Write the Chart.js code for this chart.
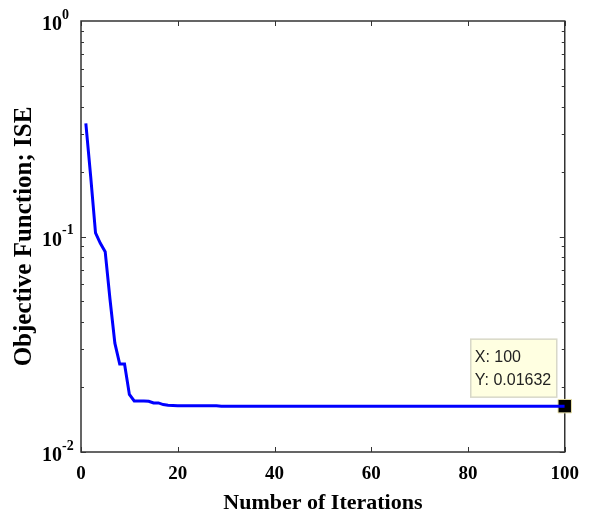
<!DOCTYPE html>
<html>
<head>
<meta charset="utf-8">
<script src="https://cdn.jsdelivr.net/npm/chart.js@4/dist/chart.umd.min.js"></script>
<style>
  body { margin: 0; background: #fff; }
  #wrap { width: 590px; height: 519px; }
</style>
</head>
<body>
<div id="wrap"><canvas id="myChart"></canvas></div>
<script>
// ISE value at each iteration (iteration 1..100)
const iseValues = [
  0.335, 0.19, 0.104, 0.093, 0.085, 0.051, 0.032, 0.0256, 0.0256, 0.0185,
  0.01725, 0.01725, 0.01725, 0.0172, 0.0169, 0.0169, 0.0166, 0.0165, 0.01645, 0.0164,
  0.0164, 0.0164, 0.0164, 0.0164, 0.0164, 0.0164, 0.0164, 0.0164, 0.01632, 0.01632,
  0.01632, 0.01632, 0.01632, 0.01632, 0.01632, 0.01632, 0.01632, 0.01632, 0.01632, 0.01632,
  0.01632, 0.01632, 0.01632, 0.01632, 0.01632, 0.01632, 0.01632, 0.01632, 0.01632, 0.01632,
  0.01632, 0.01632, 0.01632, 0.01632, 0.01632, 0.01632, 0.01632, 0.01632, 0.01632, 0.01632,
  0.01632, 0.01632, 0.01632, 0.01632, 0.01632, 0.01632, 0.01632, 0.01632, 0.01632, 0.01632,
  0.01632, 0.01632, 0.01632, 0.01632, 0.01632, 0.01632, 0.01632, 0.01632, 0.01632, 0.01632,
  0.01632, 0.01632, 0.01632, 0.01632, 0.01632, 0.01632, 0.01632, 0.01632, 0.01632, 0.01632,
  0.01632, 0.01632, 0.01632, 0.01632, 0.01632, 0.01632, 0.01632, 0.01632, 0.01632, 0.01632
];
const xTicks = [0, 20, 40, 60, 80, 100];
const yTickValues = [1, 0.1, 0.01];
const yTickExponents = ["0", "-1", "-2"];
const tipX = 100;
const tipY = 0.01632;

const lineData = iseValues.map((v, i) => ({ x: i + 1, y: v }));

// MATLAB-like box, inward ticks, log tick labels with superscripts
const axesPlugin = {
  id: "axesBox",
  beforeDatasetsDraw(chart) {
    const ctx = chart.ctx;
    const a = chart.chartArea;
    const xs = chart.scales.x;
    const ys = chart.scales.y;
    ctx.save();
    ctx.strokeStyle = "#333";
    ctx.lineWidth = 1.5;
    ctx.strokeRect(a.left, a.top, a.right - a.left, a.bottom - a.top);
    ctx.lineWidth = 1;
    ctx.beginPath();
    xTicks.forEach((t) => {
      const px = Math.round(xs.getPixelForValue(t)) + 0.5;
      ctx.moveTo(px, a.bottom); ctx.lineTo(px, a.bottom - 5);
      ctx.moveTo(px, a.top); ctx.lineTo(px, a.top + 5);
    });
    [0.01, 0.1].forEach((dec) => {
      for (let m = 1; m <= 9; m++) {
        const py = Math.round(ys.getPixelForValue(dec * m)) + 0.5;
        const len = m === 1 ? 5 : 3;
        ctx.moveTo(a.left, py); ctx.lineTo(a.left + len, py);
        ctx.moveTo(a.right, py); ctx.lineTo(a.right - len, py);
      }
    });
    ctx.stroke();

    ctx.fillStyle = "#000";
    ctx.textBaseline = "middle";
    yTickValues.forEach((v, i) => {
      const py = ys.getPixelForValue(v);
      ctx.font = "bold 20px 'Liberation Serif'";
      ctx.textAlign = "right";
      ctx.fillText("10", a.left - 19, py + 4);
      ctx.font = "bold 14px 'Liberation Serif'";
      ctx.textAlign = "left";
      ctx.fillText(yTickExponents[i], a.left - 19, py - 6);
    });
    ctx.restore();
  },
  afterDraw(chart) {
    const ctx = chart.ctx;
    const px = chart.scales.x.getPixelForValue(tipX);
    const py = chart.scales.y.getPixelForValue(tipY);
    const bx = px - 94, by = py - 67, bw = 86, bh = 58;
    ctx.save();
    ctx.fillStyle = "#ffffe1";
    ctx.fillRect(bx, by, bw, bh);
    ctx.strokeStyle = "#d8d8c8";
    ctx.lineWidth = 1.5;
    ctx.strokeRect(bx, by, bw, bh);
    ctx.fillStyle = "#222";
    ctx.font = "16px 'Liberation Sans'";
    ctx.textAlign = "left";
    ctx.textBaseline = "middle";
    ctx.fillText("X: " + tipX, bx + 4, by + 18);
    ctx.fillText("Y: " + tipY, bx + 4, by + 41);
    ctx.restore();
  }
};

const ctx = document.getElementById("myChart").getContext("2d");
new Chart(ctx, {
  type: "line",
  data: {
    datasets: [
      {
        data: lineData,
        borderColor: "#0000ff",
        borderWidth: 3,
        pointRadius: 0,
        fill: false,
        tension: 0,
      },
      {
        data: [{ x: tipX, y: tipY }],
        showLine: false,
        pointStyle: "rect",
        pointRadius: 9.5,
        pointBackgroundColor: "#000",
        pointBorderColor: "#e8e0a8",
        pointBorderWidth: 1,
        clip: false,
      },
    ],
  },
  options: {
    responsive: true,
    maintainAspectRatio: false,
    animation: false,
    layout: { padding: { top: 21, right: 23, left: 0, bottom: 0 } },
    plugins: { legend: { display: false }, tooltip: { enabled: false } },
    scales: {
      x: {
        type: "linear",
        min: 0,
        max: 100,
        grid: { display: false, drawTicks: false },
        border: { display: false },
        ticks: {
          stepSize: 20,
          padding: 11,
          color: "#000",
          font: { family: "'Liberation Serif'", size: 19, weight: "bold" },
        },
        title: {
          display: true,
          text: "Number of Iterations",
          color: "#000",
          padding: { top: 0, bottom: 2 },
          font: { family: "'Liberation Serif'", size: 22, weight: "bold" },
        },
        afterFit(scale) { scale.height = 67; },
      },
      y: {
        type: "logarithmic",
        min: 0.01,
        max: 1,
        grid: { display: false, drawTicks: false },
        border: { display: false },
        ticks: { display: false },
        title: {
          display: true,
          text: "Objective Function; ISE",
          color: "#000",
          padding: { top: 10, bottom: 0 },
          font: { family: "'Liberation Serif'", size: 25, weight: "bold" },
        },
        afterFit(scale) { scale.width = 81; },
      },
    },
  },
  plugins: [axesPlugin],
});
</script>
</body>
</html>
